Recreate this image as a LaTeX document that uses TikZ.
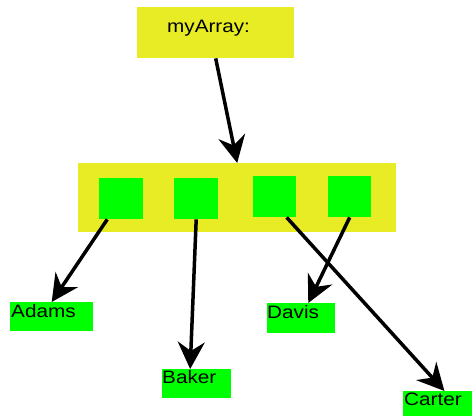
\documentclass[tikz,border=0pt]{standalone}
\usepackage{fontspec}
\setmainfont{Liberation Sans}
\usetikzlibrary{arrows.meta,calc}
\definecolor{ybox}{RGB}{232,236,36}
\definecolor{gbox}{RGB}{0,255,0}
\tikzset{
  ybg/.style={fill=ybox, draw=none, inner sep=0, anchor=north west},
  gsq/.style={fill=gbox, draw=none, inner sep=0, anchor=north west},
  namebox/.style={fill=gbox, draw=none, inner sep=0, anchor=north west},
  lbl/.style={inner sep=0, anchor=base west, font=\fontsize{18}{18}\selectfont},
  arr/.style={line width=3.5pt, -{Stealth[length=27pt,width=27pt,inset=9pt]}}
}
\newcommand{\wtext}[1]{\scalebox{1.15}[1]{#1}}
\begin{document}
\begin{tikzpicture}[x=1pt,y=-1pt]
\useasboundingbox (0,0) rectangle (472,417);
% myArray box
\node[ybg, minimum width=157, minimum height=51] (myarr) at (137,7) {};
\node[lbl] (myarrtxt) at ($(myarr.north west)+(30,26)$) {\wtext{myArray:}};
% array box
\node[ybg, minimum width=318, minimum height=69] (arr) at (78,163) {};
\node[gsq, minimum width=44, minimum height=41] (s1) at (99,178) {};
\node[gsq, minimum width=44, minimum height=41] (s2) at (174,178) {};
\node[gsq, minimum width=43, minimum height=41] (s3) at (253,176) {};
\node[gsq, minimum width=43, minimum height=41] (s4) at (328,176) {};
% name boxes
\node[namebox, minimum width=83, minimum height=29] (adams) at (10,302) {};
\node[lbl] (adamstxt) at ($(adams.north west)+(1,15)$) {\wtext{Adams}};
\node[namebox, minimum width=69, minimum height=29] (baker) at (162,369) {};
\node[lbl] (bakertxt) at ($(baker.north west)+(0,14)$) {\wtext{Baker}};
\node[namebox, minimum width=68, minimum height=30] (davis) at (267,303) {};
\node[lbl] (davistxt) at ($(davis.north west)+(0,16)$) {\wtext{Davis}};
\node[namebox, minimum width=69, minimum height=25] (carter) at (403,391) {};
\node[lbl] (cartertxt) at ($(carter.north west)+(1,15)$) {\wtext{Carter}};
% connectors
\draw[arr] (myarr.south) -- (arr.north);
\draw[arr] (s1.236) -- (adams.north);
\draw[arr] (s2.south) -- (baker.114);
\draw[arr] (s4.south) -- (davis.65);
\draw[arr] (s3.300) -- (carter.62);
\end{tikzpicture}
\end{document}
